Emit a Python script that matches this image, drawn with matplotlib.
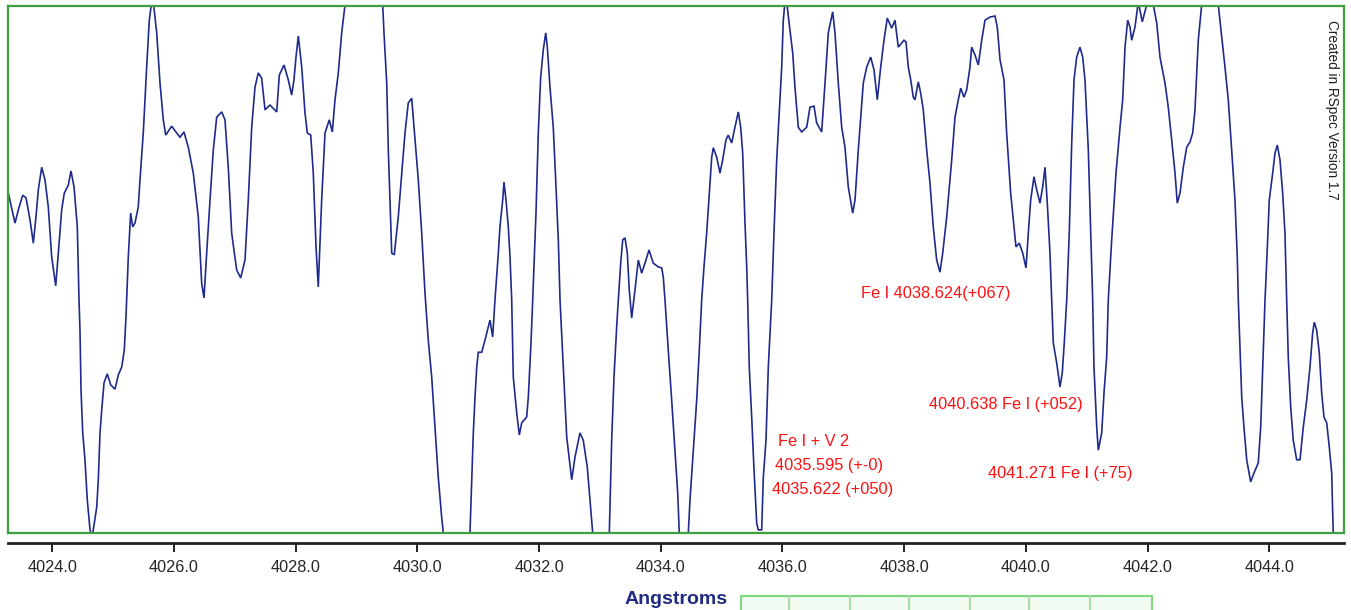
import matplotlib
matplotlib.use("Agg")
import matplotlib.pyplot as plt
from matplotlib.patches import Rectangle
from matplotlib.lines import Line2D

# ---- data (wavelength in Angstrom, relative intensity) ----
wavelength = [
    4023.261, 4023.277, 4023.387, 4023.441, 4023.514, 4023.568, 4023.634, 4023.688, 4023.732, 4023.770,
    4023.826, 4023.880, 4023.934, 4023.990, 4024.056, 4024.099, 4024.154, 4024.197, 4024.263, 4024.307,
    4024.357, 4024.411, 4024.439, 4024.455, 4024.472, 4024.500, 4024.537, 4024.575, 4024.620, 4024.652,
    4024.730, 4024.756, 4024.784, 4024.812, 4024.850, 4024.904, 4024.960, 4025.030, 4025.085, 4025.141,
    4025.183, 4025.211, 4025.249, 4025.288, 4025.321, 4025.359, 4025.413, 4025.441, 4025.495, 4025.551,
    4025.594, 4025.647, 4025.716, 4025.770, 4025.824, 4025.864, 4025.962, 4026.044, 4026.099, 4026.164,
    4026.235, 4026.317, 4026.399, 4026.455, 4026.493, 4026.537, 4026.592, 4026.646, 4026.702, 4026.784,
    4026.838, 4026.892, 4026.948, 4027.030, 4027.096, 4027.167, 4027.221, 4027.277, 4027.331, 4027.385,
    4027.441, 4027.496, 4027.578, 4027.688, 4027.731, 4027.808, 4027.878, 4027.934, 4027.972, 4028.005,
    4028.043, 4028.099, 4028.153, 4028.191, 4028.247, 4028.289, 4028.334, 4028.371, 4028.427, 4028.482,
    4028.552, 4028.602, 4028.646, 4028.700, 4028.756, 4028.810, 4028.975, 4029.270, 4029.430, 4029.451,
    4029.496, 4029.522, 4029.578, 4029.620, 4029.686, 4029.796, 4029.850, 4029.906, 4029.961, 4030.015,
    4030.071, 4030.125, 4030.179, 4030.235, 4030.289, 4030.343, 4030.399, 4030.426, 4030.640, 4030.864,
    4030.892, 4030.919, 4030.947, 4030.975, 4031.001, 4031.057, 4031.111, 4031.165, 4031.193, 4031.237,
    4031.275, 4031.330, 4031.357, 4031.402, 4031.423, 4031.456, 4031.494, 4031.522, 4031.550, 4031.576,
    4031.632, 4031.675, 4031.714, 4031.796, 4031.823, 4031.867, 4031.895, 4031.949, 4031.987, 4032.026,
    4032.069, 4032.109, 4032.135, 4032.179, 4032.233, 4032.278, 4032.316, 4032.344, 4032.398, 4032.454,
    4032.536, 4032.590, 4032.672, 4032.726, 4032.792, 4032.836, 4032.881, 4033.017, 4033.154, 4033.193,
    4033.231, 4033.275, 4033.302, 4033.341, 4033.374, 4033.412, 4033.450, 4033.482, 4033.522, 4033.576,
    4033.630, 4033.686, 4033.740, 4033.806, 4033.877, 4033.959, 4034.015, 4034.041, 4034.069, 4034.123,
    4034.179, 4034.233, 4034.278, 4034.304, 4034.381, 4034.452, 4034.480, 4034.534, 4034.590, 4034.633,
    4034.672, 4034.710, 4034.754, 4034.797, 4034.837, 4034.863, 4034.919, 4034.973, 4035.017, 4035.071,
    4035.109, 4035.165, 4035.219, 4035.274, 4035.313, 4035.346, 4035.384, 4035.412, 4035.428, 4035.454,
    4035.494, 4035.532, 4035.576, 4035.602, 4035.658, 4035.685, 4035.729, 4035.767, 4035.806, 4035.823,
    4035.860, 4035.905, 4035.947, 4035.987, 4036.013, 4036.041, 4036.079, 4036.123, 4036.168, 4036.205,
    4036.260, 4036.316, 4036.398, 4036.452, 4036.518, 4036.562, 4036.644, 4036.699, 4036.753, 4036.825,
    4036.863, 4036.917, 4036.973, 4037.027, 4037.081, 4037.154, 4037.192, 4037.246, 4037.328, 4037.384,
    4037.449, 4037.504, 4037.558, 4037.614, 4037.668, 4037.722, 4037.795, 4037.849, 4037.903, 4037.997,
    4038.030, 4038.068, 4038.107, 4038.150, 4038.177, 4038.232, 4038.271, 4038.314, 4038.370, 4038.424,
    4038.478, 4038.534, 4038.588, 4038.633, 4038.699, 4038.781, 4038.835, 4038.889, 4038.929, 4038.983,
    4039.027, 4039.081, 4039.109, 4039.164, 4039.218, 4039.274, 4039.328, 4039.410, 4039.492, 4039.530,
    4039.575, 4039.640, 4039.684, 4039.750, 4039.793, 4039.837, 4039.892, 4039.948, 4040.002, 4040.040,
    4040.079, 4040.133, 4040.178, 4040.232, 4040.276, 4040.314, 4040.352, 4040.396, 4040.424, 4040.450,
    4040.506, 4040.561, 4040.598, 4040.631, 4040.671, 4040.713, 4040.753, 4040.791, 4040.835, 4040.889,
    4040.934, 4040.971, 4041.026, 4041.065, 4041.098, 4041.119, 4041.164, 4041.190, 4041.246, 4041.284,
    4041.328, 4041.354, 4041.410, 4041.481, 4041.547, 4041.591, 4041.629, 4041.673, 4041.711, 4041.739,
    4041.793, 4041.847, 4041.913, 4041.985, 4042.040, 4042.094, 4042.150, 4042.204, 4042.286, 4042.340,
    4042.396, 4042.451, 4042.488, 4042.533, 4042.587, 4042.643, 4042.697, 4042.741, 4042.779, 4042.833,
    4042.889, 4043.025, 4043.162, 4043.201, 4043.272, 4043.326, 4043.382, 4043.436, 4043.474, 4043.491,
    4043.519, 4043.547, 4043.584, 4043.629, 4043.694, 4043.749, 4043.819, 4043.859, 4043.892, 4043.930,
    4043.957, 4044.000, 4044.056, 4044.094, 4044.132, 4044.176, 4044.220, 4044.258, 4044.286, 4044.312,
    4044.352, 4044.394, 4044.450, 4044.505, 4044.559, 4044.615, 4044.669, 4044.713, 4044.740, 4044.779,
    4044.822, 4044.861, 4044.899, 4044.944, 4044.986, 4045.026, 4045.042, 4045.052,
]

intensity = [
    67.6, 64.5, 58.8, 61.3, 64.1, 63.6, 59.4, 55.0, 60.0, 65.1,
    69.4, 67.0, 61.9, 52.4, 46.9, 53.1, 61.3, 64.5, 66.0, 68.7,
    65.7, 58.1, 44.2, 38.5, 27.1, 19.0, 13.9, 6.3, 0.6, -1.0,
    4.9, 10.1, 19.0, 23.3, 28.5, 30.2, 28.1, 27.3, 30.0, 31.5,
    34.7, 41.0, 52.4, 60.7, 58.1, 58.8, 61.9, 67.0, 75.9, 88.4,
    97.3, 102.1, 94.9, 85.4, 78.4, 75.5, 77.2, 75.9, 75.1, 76.1,
    73.2, 68.3, 60.0, 47.4, 44.6, 53.1, 63.2, 72.7, 78.9, 79.9,
    78.4, 69.4, 56.9, 49.9, 48.4, 51.8, 63.2, 77.0, 84.6, 87.3,
    86.3, 80.3, 81.2, 79.9, 86.9, 88.8, 86.0, 83.1, 86.0, 90.3,
    94.3, 88.4, 79.7, 75.9, 75.5, 68.3, 54.3, 46.7, 63.2, 75.9,
    78.4, 76.1, 82.2, 87.3, 94.9, 100.2, 108.7, 108.7, 100.2, 94.9,
    85.4, 72.7, 53.1, 52.8, 60.0, 75.9, 81.6, 82.5, 74.6, 67.0,
    56.9, 45.5, 36.6, 29.6, 20.1, 10.6, 3.0, 0.0, -10.0, 0.0,
    9.5, 19.0, 25.8, 31.5, 34.3, 34.3, 36.6, 39.1, 40.4, 37.2,
    44.2, 53.1, 58.1, 63.2, 66.6, 63.2, 58.1, 52.4, 44.2, 29.6,
    22.8, 18.6, 20.9, 22.0, 25.8, 36.1, 44.2, 60.7, 75.9, 86.5,
    91.7, 94.9, 92.2, 84.6, 77.0, 65.7, 55.6, 44.2, 31.5, 18.2,
    10.1, 14.4, 19.0, 17.6, 12.5, 6.3, 0.0, -5.1, 0.0, 17.6,
    29.6, 39.1, 44.2, 51.2, 55.6, 56.0, 53.1, 46.1, 40.8, 46.1,
    51.8, 49.3, 51.2, 53.7, 51.2, 50.5, 50.3, 48.6, 44.2, 34.7,
    25.2, 15.7, 7.6, 0.0, -5.1, 0.0, 6.3, 15.7, 25.2, 34.7,
    44.2, 50.5, 56.9, 64.5, 71.3, 73.1, 71.3, 68.3, 70.8, 74.6,
    75.5, 74.0, 77.0, 79.9, 77.0, 72.1, 58.8, 50.5, 44.2, 31.5,
    22.0, 12.0, 1.9, 0.6, 0.6, 10.6, 17.6, 31.5, 40.4, 44.2,
    56.9, 70.8, 79.7, 88.4, 97.3, 100.8, 99.8, 95.4, 91.1, 84.6,
    77.0, 76.1, 77.0, 80.8, 81.0, 77.8, 76.1, 85.4, 94.9, 98.9,
    94.9, 85.4, 77.0, 73.2, 65.7, 60.7, 63.2, 72.7, 85.4, 88.4,
    90.3, 87.9, 82.2, 88.4, 93.5, 97.7, 95.8, 97.3, 92.2, 93.5,
    93.2, 88.4, 86.0, 82.7, 82.2, 85.6, 83.5, 80.3, 72.7, 66.4,
    58.1, 51.8, 49.5, 53.1, 60.0, 70.8, 78.9, 82.2, 84.4, 82.7,
    84.1, 88.4, 92.2, 90.7, 88.8, 93.5, 97.3, 97.9, 98.1, 96.0,
    89.8, 86.0, 75.9, 64.5, 59.4, 54.3, 55.0, 53.1, 50.3, 56.9,
    63.2, 67.6, 65.1, 62.6, 65.7, 69.4, 62.6, 53.1, 44.2, 36.1,
    32.3, 27.7, 30.4, 36.1, 44.2, 56.9, 74.0, 86.0, 90.3, 92.2,
    90.3, 86.0, 72.7, 56.9, 44.2, 31.5, 20.1, 15.7, 19.0, 26.6,
    33.4, 44.2, 55.6, 68.3, 77.0, 82.2, 92.2, 97.3, 96.0, 93.5,
    96.0, 100.8, 97.0, 100.2, 101.7, 100.2, 96.8, 90.3, 85.4, 80.8,
    74.6, 68.3, 62.6, 64.5, 69.4, 73.2, 74.2, 75.9, 80.3, 93.5,
    100.2, 108.7, 100.2, 96.0, 88.4, 82.2, 72.7, 63.2, 52.4, 44.2,
    34.7, 25.8, 20.1, 13.9, 9.7, 11.4, 13.3, 20.1, 31.5, 44.2,
    51.2, 63.2, 68.3, 72.1, 73.6, 70.8, 64.5, 56.9, 44.2, 33.4,
    23.9, 17.6, 13.9, 13.9, 20.1, 25.2, 31.5, 38.0, 40.0, 38.5,
    34.2, 26.6, 22.0, 20.9, 16.3, 11.4, 3.8, 0.0,
]

tick_values = [4024.0, 4026.0, 4028.0, 4030.0, 4032.0, 4034.0, 4036.0, 4038.0, 4040.0, 4042.0, 4044.0]
tick_labels = ["4024.0", "4026.0", "4028.0", "4030.0", "4032.0", "4034.0",
               "4036.0", "4038.0", "4040.0", "4042.0", "4044.0"]

annotations = [
    ("Fe I 4038.624(+067)", 4037.290, 45.4),
    ("Fe I + V 2", 4035.926, 17.3),
    ("4035.595 (+-0)", 4035.877, 12.8),
    ("4035.622 (+050)", 4035.828, 8.3),
    ("4040.638 Fe I (+052)", 4038.412, 24.3),
    ("4041.271 Fe I (+75)", 4039.382, 11.2),
]

x_min, x_max = 4023.272, 4045.228
y_min, y_max = 0.0, 100.0

W, H = 1351, 610
plt.rcParams['font.family'] = ['Liberation Sans', 'DejaVu Sans']

fig = plt.figure(figsize=(W / 100, H / 100), dpi=100)
fig.patch.set_facecolor('white')

def fx(px):
    return px / W

def fy(py):
    return 1 - py / H

# main plot area
ax = fig.add_axes([fx(8), fy(533), (1344 - 8) / W, (533 - 6) / H])
ax.plot(wavelength, intensity, color='#1e2a8c', linewidth=1.2, solid_joinstyle='miter')
ax.set_xlim(x_min, x_max)
ax.set_ylim(y_min, y_max)
ax.set_xticks([])
ax.set_yticks([])
for sp in ax.spines.values():
    sp.set_color('#3f9f3f')
    sp.set_linewidth(1.6)

for text, lx, ly in annotations:
    ax.text(lx, ly, text, color='#ff1010', fontsize=11.8, ha='left', va='center')

# separate x axis below the box
axx = fig.add_axes([fx(8), fy(543), (1344 - 8) / W, 0.0001])
axx.set_xlim(x_min, x_max)
axx.set_ylim(0, 1)
axx.patch.set_visible(False)
for name in ['top', 'left', 'right']:
    axx.spines[name].set_visible(False)
axx.spines['bottom'].set_color('#222222')
axx.spines['bottom'].set_linewidth(2.0)
axx.set_yticks([])
axx.set_xticks(tick_values)
axx.set_xticklabels(tick_labels)
axx.tick_params(axis='x', direction='out', length=6.5, width=1.4, color='#222222',
                labelsize=11.7, labelcolor='#262626', pad=6)
axx.set_xlabel('Angstroms', fontsize=14, fontweight='bold', color='#1f2a80', labelpad=11)

# credit text
fig.text(fx(1332), fy(20), 'Created in RSpec Version 1.7', rotation=270,
         ha='center', va='top', fontsize=9.8, color='#202020')

# partial green toolbar at bottom
fig.patches.append(Rectangle((fx(741), fy(615)), (1152 - 741) / W, (615 - 596) / H,
                             transform=fig.transFigure, facecolor='#f1fbf1',
                             edgecolor='#80d880', linewidth=1.5))
for dxp in [789, 850, 909, 970, 1029, 1090]:
    fig.lines.append(Line2D([fx(dxp), fx(dxp)], [fy(596), fy(612)], transform=fig.transFigure,
                            color='#a8dca8', linewidth=1.5))

fig.savefig('out.png', dpi=100, facecolor='white')
